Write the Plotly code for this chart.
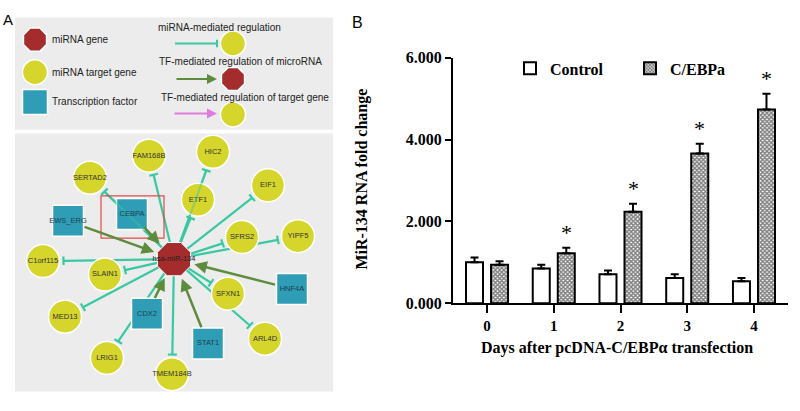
import math
import plotly.graph_objects as go

# ---------------- Panel B data ----------------
days = [0, 1, 2, 3, 4]
day_labels = ["0", "1", "2", "3", "4"]
control_mean = [1.00, 0.85, 0.71, 0.62, 0.54]
control_err = [0.12, 0.09, 0.09, 0.09, 0.08]
cebpa_mean = [0.94, 1.22, 2.24, 3.66, 4.74]
cebpa_err = [0.09, 0.14, 0.19, 0.24, 0.38]
significant = [False, True, True, True, True]
y_ticks = [0, 2, 4, 6]

# ---------------- Panel A data (network layout, pixel space) ----------------
mirna_name = "hsa-miR-134"
mirna_x = [174]
mirna_y = [262]
target_names = ["FAM168B", "HIC2", "SERTAD2", "ETF1", "EIF1", "SFRS2", "YIPF5",
                "C1orf115", "SLAIN1", "SFXN1", "MED13", "ARL4D", "LRIG1", "TMEM184B"]
target_x = [149, 213, 90, 198, 268, 242, 298, 43, 105, 228, 65, 265, 107, 172]
target_y = [154, 150, 177, 200, 185, 239, 238, 264, 278, 298, 322, 345, 365, 382]
tf_names = ["EWS_ERG", "CEBPA", "HNF4A", "CDX2", "STAT1"]
tf_x = [68, 132, 292, 147, 208]
tf_y = [222, 215, 293, 319, 350]
overlay_targets = ["SERTAD2", "HIC2"]

FONT_SERIF = "Liberation Serif, Times New Roman, serif"
FONT_SANS = "Liberation Sans, Arial, sans-serif"
TEAL_EDGE = "#38c8a2"
GREEN_EDGE = "#5c8c3c"
PINK_EDGE = "#e07ce0"
YELLOW = "#d5d52b"
TF_BLUE = "#2f9db6"
MIR_RED = "#a52c2c"
PANEL_GRAY = "#ececec"

W, H = 800, 411

fig = go.Figure()

# ---------- Panel B: bars ----------
fig.add_trace(go.Bar(
    x=days, y=control_mean, name="Control",
    marker=dict(color="white", line=dict(color="black", width=2)),
    error_y=dict(type="data", array=control_err, arrayminus=[0] * len(days),
                 symmetric=False, color="black", thickness=2, width=4),
    xaxis="x", yaxis="y",
))
fig.add_trace(go.Bar(
    x=days, y=cebpa_mean, name="C/EBPa",
    marker=dict(color="white", line=dict(color="black", width=2),
                pattern=dict(shape="x", size=3, solidity=0.7,
                             fgcolor="black", bgcolor="white")),
    error_y=dict(type="data", array=cebpa_err, arrayminus=[0] * len(days),
                 symmetric=False, color="black", thickness=2, width=4),
    xaxis="x", yaxis="y",
))

annotations = []
for d, m, e, s in zip(days, cebpa_mean, cebpa_err, significant):
    if s:
        annotations.append(dict(
            x=d + 0.1875, y=m + e, xref="x", yref="y", text="*", showarrow=False,
            xanchor="center", yanchor="middle",
            yshift=15, font=dict(family=FONT_SERIF, size=22, color="black")))

# ---------- Panel A: network ----------
def unit(x0, y0, x1, y1):
    dx, dy = x1 - x0, y1 - y0
    L = math.hypot(dx, dy)
    return dx / L, dy / L

mx, my = mirna_x[0], mirna_y[0]
edge_x, edge_y = [], []
ov_x, ov_y = [], []
for name, tx, ty in zip(target_names, target_x, target_y):
    ux, uy = unit(mx, my, tx, ty)
    ex, ey = tx - ux * 20.5, ty - uy * 20.5
    px, py = -uy, ux
    seg_x = [mx, ex, None, ex + px * 4.5, ex - px * 4.5, None]
    seg_y = [my, ey, None, ey + py * 4.5, ey - py * 4.5, None]
    edge_x += seg_x
    edge_y += seg_y
    if name in overlay_targets:
        ov_x += seg_x
        ov_y += seg_y

fig.add_trace(go.Scatter(x=edge_x, y=edge_y, mode="lines",
                         line=dict(color=TEAL_EDGE, width=2.2),
                         hoverinfo="skip", showlegend=False, xaxis="x2", yaxis="y2"))

fig.add_trace(go.Scatter(
    x=target_x, y=target_y, mode="markers+text", text=target_names,
    textposition="middle center",
    textfont=dict(family=FONT_SANS, size=7.5, color="#333333"),
    marker=dict(symbol="circle", size=33, color=YELLOW, line=dict(color="white", width=1.5)),
    hoverinfo="text", showlegend=False, xaxis="x2", yaxis="y2"))

fig.add_trace(go.Scatter(
    x=tf_x, y=tf_y, mode="markers",
    marker=dict(symbol="square", size=31, color=TF_BLUE, line=dict(color="white", width=1.5)),
    hoverinfo="skip", showlegend=False, xaxis="x2", yaxis="y2"))

fig.add_trace(go.Scatter(x=ov_x, y=ov_y, mode="lines",
                         line=dict(color=TEAL_EDGE, width=2), opacity=0.45,
                         hoverinfo="skip", showlegend=False, xaxis="x2", yaxis="y2"))

fig.add_trace(go.Scatter(
    x=tf_x, y=tf_y, mode="text", text=tf_names,
    textposition="middle center",
    textfont=dict(family=FONT_SANS, size=7.5, color="#1d3f50"),
    hoverinfo="text", showlegend=False, xaxis="x2", yaxis="y2"))

fig.add_trace(go.Scatter(
    x=mirna_x, y=mirna_y, mode="markers+text", text=[mirna_name],
    textposition="middle center",
    textfont=dict(family=FONT_SANS, size=7.5, color="#222222"),
    marker=dict(symbol="octagon", size=36, color=MIR_RED, line=dict(color="white", width=1)),
    hoverinfo="text", showlegend=False, xaxis="x2", yaxis="y2"))

# TF -> miRNA arrows
for tx, ty in zip(tf_x, tf_y):
    annotations.append(dict(
        x=mx, y=my, ax=tx, ay=ty, xref="x2", yref="y2", axref="x2", ayref="y2",
        text="", showarrow=True, arrowhead=2, arrowsize=1, arrowwidth=2.5,
        arrowcolor=GREEN_EDGE, standoff=21, startstandoff=16))

# ---------- Panel A: legend box ----------
leg_sym_x = [35, 35, 35, 233, 233, 233]
leg_sym_y = [33, 67, 98, 37, 74, 111]
leg_sym = ["octagon", "circle", "square", "circle", "octagon", "circle"]
leg_col = [MIR_RED, YELLOW, TF_BLUE, YELLOW, MIR_RED, YELLOW]
fig.add_trace(go.Scatter(
    x=leg_sym_x, y=leg_sym_y, mode="markers",
    marker=dict(symbol=leg_sym, size=25, color=leg_col, line=dict(color="white", width=1.5)),
    hoverinfo="skip", showlegend=False, xaxis="x2", yaxis="y2"))

# teal inhibition line
fig.add_trace(go.Scatter(x=[175, 217, None, 217, 217], y=[37, 37, None, 33, 41], mode="lines",
                         line=dict(color=TEAL_EDGE, width=2), hoverinfo="skip",
                         showlegend=False, xaxis="x2", yaxis="y2"))
annotations.append(dict(x=217, y=74, ax=175, ay=74, xref="x2", yref="y2", axref="x2", ayref="y2",
                        text="", showarrow=True, arrowhead=2, arrowsize=1, arrowwidth=2,
                        arrowcolor=GREEN_EDGE))
annotations.append(dict(x=217, y=110, ax=173, ay=110, xref="x2", yref="y2", axref="x2", ayref="y2",
                        text="", showarrow=True, arrowhead=2, arrowsize=1, arrowwidth=2,
                        arrowcolor=PINK_EDGE))

leg_texts = [("miRNA gene", 50, 33, "left"), ("miRNA target gene", 50, 67, "left"),
             ("Transcription factor", 50, 98, "left"),
             ("miRNA-mediated regulation", 219, 20, "center"),
             ("TF-mediated regulation of microRNA", 240, 56, "center"),
             ("TF-mediated regulation of target gene", 245, 93, "center")]
for t, x, y, xa in leg_texts:
    annotations.append(dict(x=x, y=y, xref="x2", yref="y2", text=t, showarrow=False,
                            xanchor=xa, yanchor="middle",
                            font=dict(family=FONT_SANS, size=10, color="#222222")))

# panel letters
annotations.append(dict(x=7.5, y=12, xref="x2", yref="y2", text="A", showarrow=False,
                        xanchor="center", yanchor="middle",
                        font=dict(family=FONT_SANS, size=15, color="black")))
annotations.append(dict(x=357, y=15, xref="x2", yref="y2", text="B", showarrow=False,
                        xanchor="center", yanchor="middle",
                        font=dict(family=FONT_SANS, size=16, color="black")))

# axis titles for panel B
annotations.append(dict(x=362 / W, y=1 - 179 / H, xref="paper", yref="paper",
                        xanchor="center", yanchor="middle",
                        text="MiR-134 RNA fold change", textangle=-90, showarrow=False,
                        font=dict(family=FONT_SERIF, size=16, color="black", weight="bold")))
annotations.append(dict(x=617 / W, y=1 - 355 / H, xref="paper", yref="paper",
                        xanchor="center", yanchor="middle",
                        text="Days after pcDNA-C/EBPα transfection", showarrow=False,
                        font=dict(family=FONT_SERIF, size=16, color="black", weight="bold")))

shapes = [
    dict(type="rect", xref="x2", yref="y2", x0=15, y0=10, x1=333, y1=127,
         fillcolor=PANEL_GRAY, line=dict(width=0), layer="below"),
    dict(type="rect", xref="x2", yref="y2", x0=15, y0=131, x1=333, y1=400,
         fillcolor=PANEL_GRAY, line=dict(width=0), layer="below"),
    dict(type="rect", xref="x2", yref="y2", x0=101, y0=196, x1=164, y1=240,
         fillcolor="rgba(0,0,0,0)", line=dict(color="#e24a4a", width=1.2), layer="above"),
]

fig.update_layout(
    width=W, height=H,
    margin=dict(l=0, r=0, t=0, b=0),
    paper_bgcolor="white", plot_bgcolor="rgba(0,0,0,0)",
    barmode="group", bargap=0.25, bargroupgap=0.32,
    xaxis=dict(domain=[453 / W, 788 / W], range=[-0.51, 4.51], anchor="y",
               tickvals=days, ticktext=day_labels,
               ticks="outside", ticklen=8, tickwidth=2, tickcolor="black",
               showline=True, linecolor="black", linewidth=2,
               showgrid=False, zeroline=False,
               tickfont=dict(family=FONT_SERIF, size=15, color="black", weight="bold")),
    yaxis=dict(domain=[1 - 308 / H, 1 - 52 / H], range=[0, 6], anchor="x",
               tickvals=y_ticks, tickformat=".3f", ticks="outside", ticklen=6,
               tickwidth=2, tickcolor="black",
               showline=True, linecolor="black", linewidth=2,
               showgrid=False, zeroline=False,
               tickfont=dict(family=FONT_SERIF, size=16, color="black", weight="bold")),
    xaxis2=dict(domain=[0, 1], range=[0, W], anchor="y2", visible=False, fixedrange=True),
    yaxis2=dict(domain=[0, 1], range=[H, 0], anchor="x2", visible=False, fixedrange=True),
    legend=dict(orientation="h", x=510 / W, y=1 - 63 / H, xanchor="left", yanchor="middle",
                entrywidth=75, bgcolor="rgba(0,0,0,0)",
                font=dict(family=FONT_SERIF, size=16, color="black", weight="bold")),
    annotations=annotations,
    shapes=shapes,
)

fig.write_html("out.html", config={"displayModeBar": False},
               post_script="document.body.style.margin='0';document.body.style.overflow='hidden';")
